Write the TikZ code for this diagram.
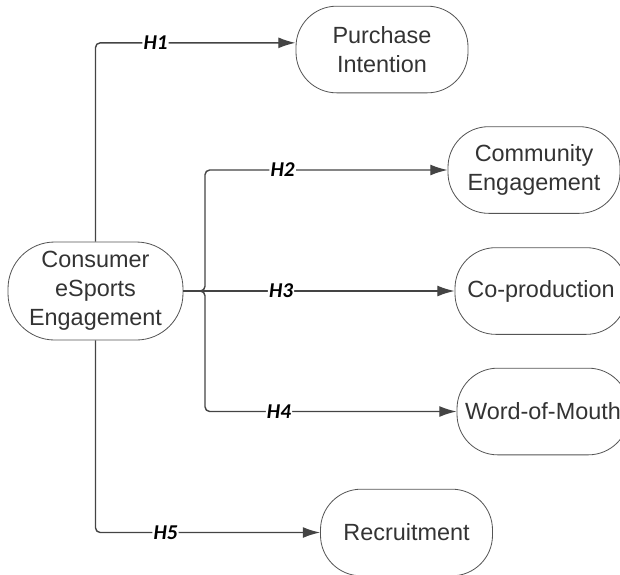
\documentclass[tikz,border=0pt]{standalone}
\usepackage{fontspec}
\setmainfont{Liberation Sans}
\newfontfamily\hypfont{Carlito}
\usetikzlibrary{arrows.meta}
\definecolor{linegray}{HTML}{444444}
\definecolor{boxgray}{HTML}{555555}
\definecolor{textgray}{HTML}{333333}

\begin{document}
\begin{tikzpicture}[x=0.03cm,y=-0.03cm,
    construct/.style={draw=boxgray,line width=0.7pt,rounded corners=1.22cm,
      minimum width=5.16cm,minimum height=2.6cm,inner sep=2pt,align=center,
      text=textgray,font=\fontsize{20}{24.8}\selectfont},
    link/.style={draw=linegray,line width=1.2pt,rounded corners=4pt,
      -{Latex[length=0.52cm,width=0.33cm]}},
    hyp/.style={fill=white,inner sep=1pt,text=black,
      font=\hypfont\bfseries\itshape\fontsize{18}{18}\selectfont}]
      \useasboundingbox (0,0) rectangle (620,574);

      \node (cese) at (95.5,291) [construct,minimum width=5.25cm,minimum height=2.94cm,rounded corners=1.4cm]
        {Consumer\\eSports\\Engagement};

      \node (pi) at (382,49.5) [construct] {Purchase\\Intention};
      \node (ce) at (534,170) [construct] {Community\\Engagement};
      \node (cp) at (541,291) [construct] {Co-production};
      \node (wom) at (543,411.5) [construct] {Word-of-Mouth};
      \node (rec) at (406.5,532.5) [construct] {Recruitment};

      \coordinate (fork) at (205,291);

      \draw[link] (cese.north) |- ([yshift=0.2cm]pi.west) node[hyp,pos=0.65] {H1};
      \draw[link] (cese.east) -- (fork) |- (ce.west) node[hyp,pos=0.66] {H2};
      \draw[link] (cese.east) -- (cp.west) node[hyp,pos=0.36] {H3};
      \draw[link] (cese.east) -- (fork) |- (wom.west) node[hyp,pos=0.647] {H4};
      \draw[link] (cese.south) |- (rec.west) node[hyp,pos=0.656] {H5};
    \end{tikzpicture}
\end{document}
